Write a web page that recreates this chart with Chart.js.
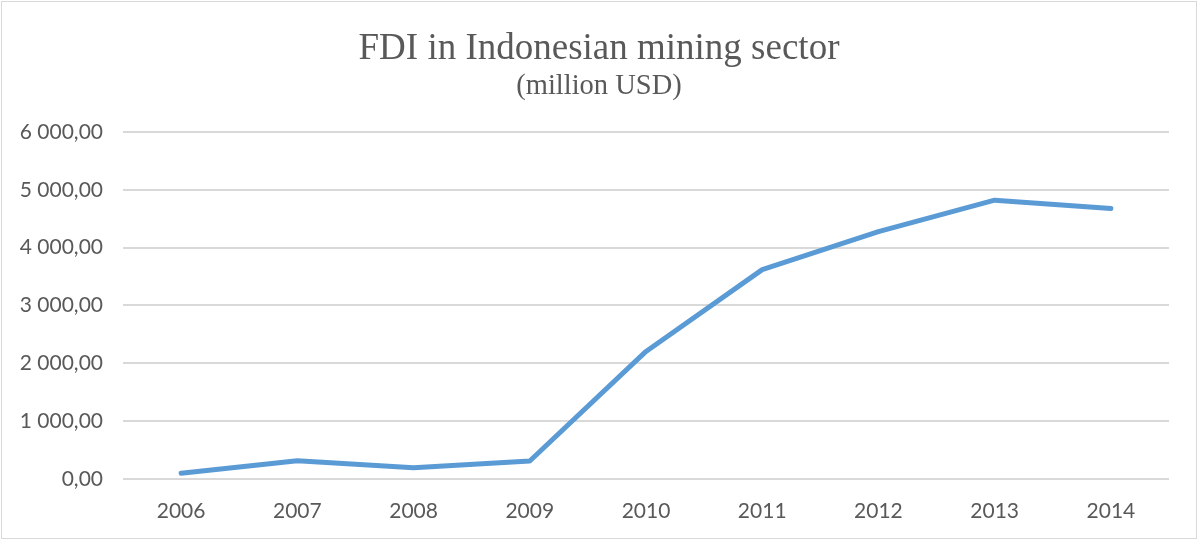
<!DOCTYPE html>
<html>
<head>
<meta charset="utf-8">
<script src="https://cdn.jsdelivr.net/npm/chart.js@4.4.1/dist/chart.umd.min.js"></script>
<style>
  html, body { margin: 0; padding: 0; background: #fff; }
  #wrap { width: 1198px; height: 540px; position: relative; }
</style>
</head>
<body>
<div id="wrap"><canvas id="myChart"></canvas></div>
<script>
const years = ['2006', '2007', '2008', '2009', '2010', '2011', '2012', '2013', '2014'];
const fdi = [100, 315, 195, 312, 2205, 3620, 4275, 4820, 4675];
const yTicks = [0, 1000, 2000, 3000, 4000, 5000, 6000];

function fmt(v) {
  // 6000 -> "6 000,00"
  var s = Math.round(v).toString();
  s = s.replace(/\B(?=(\d{3})+(?!\d))/g, ' ');
  return s + ',00';
}

const background = {
  id: 'frame',
  beforeDraw: (chart) => {
    const ctx = chart.ctx;
    ctx.save();
    ctx.fillStyle = '#ffffff';
    ctx.fillRect(0, 0, chart.width, chart.height);
    ctx.strokeStyle = '#d9d9d9';
    ctx.lineWidth = 1;
    ctx.strokeRect(1.5, 1.5, chart.width - 3, chart.height - 3);
    ctx.restore();
  }
};

const data = {
  labels: years,
  datasets: [{
    label: 'FDI',
    data: fdi,
    borderColor: '#5b9bd5',
    backgroundColor: '#5b9bd5',
    borderWidth: 5,
    pointRadius: 0,
    tension: 0,
    borderCapStyle: 'round',
    borderJoinStyle: 'round'
  }]
};

const config = {
  type: 'line',
  data: data,
  options: {
    responsive: true,
    maintainAspectRatio: false,
    animation: false,
    layout: { padding: { left: 0, right: 0, top: 29, bottom: 17 } },
    plugins: {
      legend: { display: false },
      tooltip: { enabled: false },
      title: {
        display: true,
        text: 'FDI in Indonesian mining sector',
        color: '#595959',
        font: { family: '"Liberation Serif", serif', size: 37, weight: 'normal', lineHeight: 1.1 },
        padding: { top: 0, bottom: 0 }
      },
      subtitle: {
        display: true,
        text: '(million USD)',
        color: '#595959',
        font: { family: '"Liberation Serif", serif', size: 28.5, weight: 'normal' },
        padding: { top: 0, bottom: 28 }
      }
    },
    scales: {
      x: {
        offset: true,
        grid: { display: false, drawTicks: false },
        border: { display: false },
        afterFit: (axis) => { axis.height = 44; },
        ticks: {
          color: '#595959',
          font: { family: 'Lato, "Open Sans", sans-serif', size: 21 },
          padding: 20,
          maxRotation: 0
        }
      },
      y: {
        min: 0,
        max: 6000,
        afterBuildTicks: (axis) => {
          axis.ticks = yTicks.map(v => ({ value: v }));
        },
        afterFit: (axis) => { axis.width = 123; },
        grid: { color: '#d9d9d9', lineWidth: 2, drawTicks: false },
        border: { display: false },
        ticks: {
          color: '#595959',
          font: { family: 'Lato, "Open Sans", sans-serif', size: 21 },
          padding: 20,
          callback: (v) => fmt(v)
        }
      },
      // empty right axis, only reserves the margin on the right
      yRight: {
        position: 'right',
        display: true,
        grid: { display: false, drawTicks: false },
        border: { display: false },
        ticks: { display: false },
        afterFit: (axis) => { axis.width = 29; }
      }
    }
  },
  plugins: [background]
};

const myChart = new Chart(document.getElementById('myChart'), config);
</script>
</body>
</html>
